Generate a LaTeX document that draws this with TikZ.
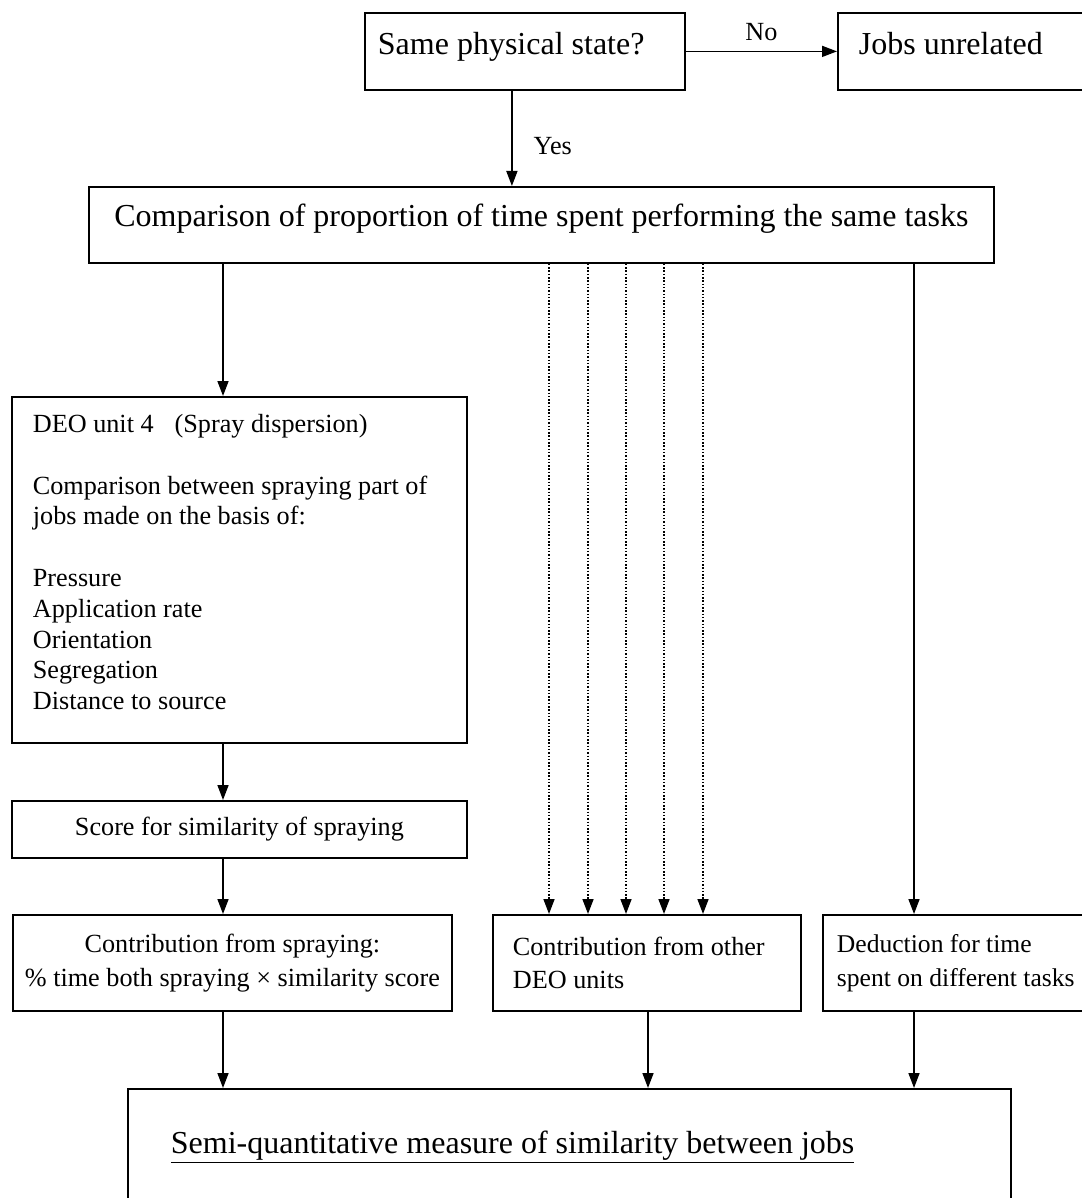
\documentclass[tikz,border=0pt]{standalone}
\usepackage{fontspec}
\setmainfont{Liberation Serif}
\usetikzlibrary{arrows.meta}
\newcommand{\bigtxt}{\fontsize{32}{36}\selectfont}
\newcommand{\smalltxt}{\fontsize{26.2}{30.8}\selectfont}
\newcommand{\dedtxt}{\fontsize{25.6}{30.8}\selectfont}
\begin{document}
\begin{tikzpicture}
	[x=1pt, y=-1pt,
	box/.style={draw, line width=1.8pt, rectangle, anchor=north west, inner ysep=0pt},
	big/.style={font=\bigtxt},
	small/.style={font=\smalltxt},
	arr/.style={line width=1.6pt, -{Triangle[length=15pt,width=11pt]}},
	dots/.style={arr, dash pattern=on 1.5pt off 1.8pt}]
	\useasboundingbox (0,0) rectangle (1081,1198);
	% top row
	\node[box, big, inner xsep=13pt, text width=294pt, minimum height=77pt, text depth=15pt, align=flush left] (same) at (364,12) {Same physical state?};
	\node[box, big, inner xsep=21pt, text width=230pt, minimum height=77pt, text depth=15pt, align=flush left] (unrel) at (837,12) {Jobs unrelated};
	\node[box, big, minimum width=905pt, minimum height=76pt, text depth=19pt, align=center] (cmp) at (88,186) {Comparison of proportion of time spent performing the same tasks};
	% spraying column
	\node[box, small, inner xsep=21pt, text width=413pt, minimum height=346pt, text depth=293pt, align=flush left] (deo) at (11,396)
		{DEO unit 4\hspace{0.8em}(Spray dispersion)\\[30.8pt]
		Comparison between spraying part of\\
		jobs made on the basis of:\\[30.8pt]
		Pressure\\
		Application rate\\
		Orientation\\
		Segregation\\
		Distance to source};
	\node[box, small, minimum width=455pt, minimum height=57pt, align=center] (score) at (11,800) {Score for similarity of spraying};
	\node[box, small, minimum width=439pt, minimum height=96pt, align=center] (sprc) at (12,914)
		{Contribution from spraying:\\[3pt]\% time both spraying × similarity score};
	% other contributions
	\node[box, small, inner xsep=20pt, text width=268pt, minimum height=96pt, align=flush left] (othc) at (492,914)
		{Contribution from other\\[3pt]DEO units};
	\node[box, font=\dedtxt, inner xsep=14pt, text width=268pt, minimum height=96pt, align=flush left] (dedc) at (822,914)
		{Deduction for time\\[3pt]spent on different tasks};
	\node[box, big, inner xsep=43pt, text width=797pt, minimum height=116pt, align=flush left] (semi) at (127,1088)
		{\underline{Semi-quantitative measure of similarity between jobs}};
	% connectors
	\coordinate (lx) at (223,0);
	\coordinate (mx) at (648,0);
	\coordinate (rx) at (914,0);
	\draw[arr] (same.east) -- (unrel.west) node[midway, above=10pt, inner sep=0pt, small] (no) {No};
	\draw[arr] ([xshift=-13pt]same.south) -- ([xshift=-13pt]same.south |- cmp.north) node[pos=0.58, right=21pt, inner sep=0pt, small] (yes) {Yes};
	\draw[arr] (cmp.south -| lx) -- (deo.north -| lx);
	\draw[arr] (deo.south -| lx) -- (score.north -| lx);
	\draw[arr] (score.south -| lx) -- (sprc.north -| lx);
	\draw[arr] (sprc.south -| lx) -- (semi.north -| lx);
	\foreach \x [count=\i] in {549,588,626,664,703} {
		\coordinate (d\i) at (\x,0);
		\draw[dots] (cmp.south -| d\i) -- (othc.north -| d\i);
	}
	\draw[arr] (othc.south -| mx) -- (semi.north -| mx);
	\draw[arr] (cmp.south -| rx) -- (dedc.north -| rx);
	\draw[arr] (dedc.south -| rx) -- (semi.north -| rx);
\end{tikzpicture}
\end{document}
